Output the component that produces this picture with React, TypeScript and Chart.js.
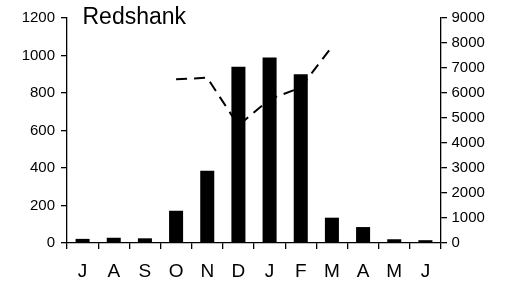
import React, { useEffect, useRef } from "react";
import { Chart, registerables } from "chart.js";

Chart.register(...registerables);

const months = ["J", "A", "S", "O", "N", "D", "J", "F", "M", "A", "M", "J"];
const birdCounts = [22, 28, 25, 172, 385, 940, 990, 900, 135, 85, 20, 15];
const secondSeries: (number | null)[] = [null, null, null, 6550, 6610, 4700, 5750, 6220, 7850, null, null, null];
const leftTicks = { min: 0, max: 1200, step: 200 };
const rightTicks = { min: 0, max: 9000, step: 1000 };
const titleText = "Redshank";

const FONT = "'Liberation Sans', Arial, sans-serif";

const titlePlugin = {
  id: "innerTitle",
  afterDraw(chart: any) {
    const ctx = chart.ctx;
    ctx.save();
    ctx.font = `23px ${FONT}`;
    ctx.fillStyle = "#000";
    ctx.textBaseline = "alphabetic";
    ctx.textAlign = "left";
    ctx.fillText(titleText, chart.chartArea.left + 15.5, 24);
    ctx.restore();
  },
};

const plain = (v: any) => String(v);

export default function App() {
  const ref = useRef<HTMLCanvasElement>(null);
  useEffect(() => {
    document.body.style.margin = "0";
    const chart = new Chart(ref.current!, {
      type: "bar",
      data: {
        labels: months,
        datasets: [
          {
            type: "line",
            data: secondSeries,
            yAxisID: "y1",
            borderColor: "#000",
            borderWidth: 2,
            borderDash: [11, 7],
            pointRadius: 0,
            fill: false,
            tension: 0,
            spanGaps: false,
            order: 0,
          } as any,
          {
            type: "bar",
            data: birdCounts,
            yAxisID: "y",
            backgroundColor: "#000",
            borderWidth: 0,
            barPercentage: 0.45,
            categoryPercentage: 1,
            order: 1,
          },
        ],
      },
      options: {
        animation: false,
        responsive: false,
        devicePixelRatio: 1,
        layout: { padding: { top: 18, left: 0, right: 0, bottom: 0 } },
        plugins: { legend: { display: false }, tooltip: { enabled: false } },
        scales: {
          x: {
            offset: true,
            grid: { display: true, drawOnChartArea: false, offset: true, tickLength: 6, color: "#000", lineWidth: 1.3 },
            border: { display: true, color: "#000", width: 1.3 },
            ticks: { color: "#000", font: { family: FONT, size: 19 }, padding: 11, maxRotation: 0, autoSkip: false },
            afterFit(scale: any) { scale.height = 45; },
          },
          y: {
            position: "left",
            min: leftTicks.min,
            max: leftTicks.max,
            grid: { display: true, drawOnChartArea: false, tickLength: 6, color: "#000", lineWidth: 1.3 },
            border: { display: true, color: "#000", width: 1.3 },
            ticks: { stepSize: leftTicks.step, color: "#000", font: { family: FONT, size: 15 }, padding: 6, callback: plain },
            afterFit(scale: any) { scale.width = 67; },
          },
          y1: {
            position: "right",
            min: rightTicks.min,
            max: rightTicks.max,
            grid: { display: true, drawOnChartArea: false, tickLength: 6, color: "#000", lineWidth: 1.3 },
            border: { display: true, color: "#000", width: 1.3 },
            ticks: { stepSize: rightTicks.step, color: "#000", font: { family: FONT, size: 15 }, padding: 4.5, callback: plain },
            afterFit(scale: any) { scale.width = 65; },
          },
        },
      },
      plugins: [titlePlugin],
    });
    return () => chart.destroy();
  }, []);
  return (
    <div style={{ width: 506, height: 288 }}>
      <canvas ref={ref} width={506} height={288} style={{ display: "block" }} />
    </div>
  );
}
